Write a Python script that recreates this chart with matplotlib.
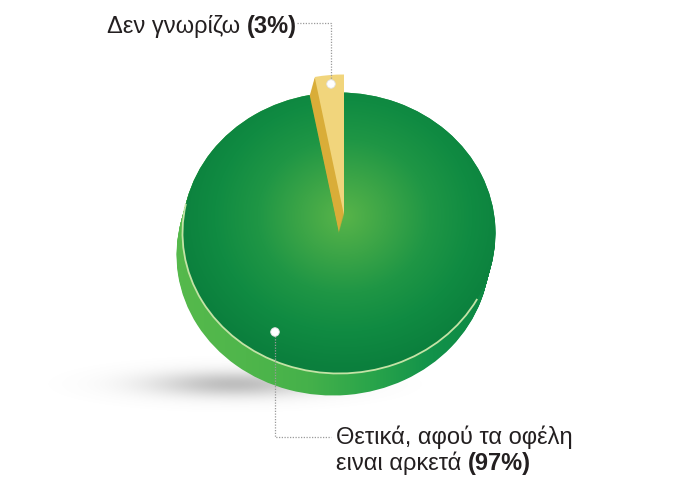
import numpy as np
import matplotlib
matplotlib.use('Agg')
import matplotlib.pyplot as plt
from matplotlib.colors import LinearSegmentedColormap
from matplotlib.patches import Arc, Circle

# ---- data ----
categories = ['Δεν γνωρίζω', 'Θετικά, αφού τα οφέλη ειναι αρκετά']
values = [3, 97]
pct_labels = ['(3%)', '(97%)']

W, H = 700, 484
fig = plt.figure(figsize=(7, 4.84), dpi=100)
fig.patch.set_facecolor('white')
bg = fig.add_axes([0, 0, 1, 1])
bg.set_xlim(0, W)
bg.set_ylim(H, 0)
bg.axis('off')

# ---- pie geometry (pixels) ----
cx, cy, rx, ry = 339.0, 233.0, 156.5, 140.5
box = (150, 40, 540, 430)  # x0, y0, x1, y1 in pixels
pax = fig.add_axes([box[0] / W, (H - box[3]) / H, (box[2] - box[0]) / W, (box[3] - box[1]) / H])
pax.set_zorder(2)
pax.patch.set_visible(False)
xl = ((box[0] - cx) / rx, (box[2] - cx) / rx)
yl = ((cy - box[3]) / ry, (cy - box[1]) / ry)

def fix_axes():
    pax.set_aspect('auto')
    pax.set_xlim(*xl)
    pax.set_ylim(*yl)
    pax.axis('off')

# ---- shadow ----
sx = np.linspace(0, 520, 520)
sy = np.linspace(300, 470, 170)
SX, SY = np.meshgrid(sx, sy)
a = np.exp(-(((SX - 235) / 85) ** 2 + ((SY - 384) / 13) ** 2))
shadow = np.zeros(SX.shape + (4,))
shadow[..., :3] = 0.5
shadow[..., 3] = 0.5 * a
bg.imshow(shadow, extent=(0, 520, 470, 300), zorder=1, interpolation='bilinear')

# gradients
face_cmap = LinearSegmentedColormap.from_list('face', ['#58b449', '#3ca547', '#1f9645', '#108b42', '#0b7f3d'])
side_cmap = LinearSegmentedColormap.from_list('side', ['#55b94c', '#4fb64b', '#45b14a', '#2aa54b', '#12924a', '#0c8742'])
gx = np.linspace(xl[0], xl[1], 300)
gy = np.linspace(yl[0], yl[1], 300)
GX, GY = np.meshgrid(gx, gy)
radial = np.sqrt(((GX - 0.03) / 1.0) ** 2 + ((GY - 0.12) / 1.0) ** 2)
radial = np.clip(radial / 1.1, 0, 1)
horiz = np.clip((GX + 1.0) / 2.0, 0, 1)

# ---- side of the green disc (stacked layers) ----
dx, dy = -6.0 / rx, -22.0 / ry
n_side = 24
for k in np.linspace(1, 0, n_side):
    wedges, _ = pax.pie(values, startangle=90, counterclock=True, radius=1,
                        center=(dx * k, dy * k), colors=['#3fae49', '#3fae49'],
                        wedgeprops=dict(linewidth=0))
    for w in wedges:
        w.set_visible(False)
        im = pax.imshow(side_cmap(horiz), extent=(xl[0], xl[1], yl[0], yl[1]), origin='lower',
                        interpolation='bilinear', zorder=1)
        im.set_clip_path(w)

# ---- top face ----
wedges, _ = pax.pie(values, startangle=90, counterclock=True, radius=1, center=(0, 0),
                    colors=['#dcb03a', '#0a7d3c'], wedgeprops=dict(linewidth=0))
for w in wedges:
    w.set_visible(False)
    imf = pax.imshow(face_cmap(radial), extent=(xl[0], xl[1], yl[0], yl[1]), origin='lower',
                     interpolation='bilinear', zorder=2)
    imf.set_clip_path(w)

# rim highlight
pax.add_patch(Arc((0, 0), 2.0, 2.0, theta1=168, theta2=332, color='#c4e3a6', lw=1.3, zorder=3))

# ---- lifted "don't know" slice ----
lx, ly = 5.0 / rx, 18.0 / ry
n_lift = 18
for i, k in enumerate(np.linspace(0, 1, n_lift)):
    top = (i == n_lift - 1)
    ws, _ = pax.pie(values, startangle=90, counterclock=True, radius=1,
                    center=(lx * k, ly * k),
                    colors=['#f1d57c' if top else '#d9ad38', 'none'],
                    wedgeprops=dict(linewidth=0))
    ws[1].set_visible(False)
    for w in ws:
        w.set_zorder(4)

fix_axes()

# ---- annotation overlay ----
ov = fig.add_axes([0, 0, 1, 1])
ov.set_zorder(5)
ov.patch.set_visible(False)
ov.set_xlim(0, W)
ov.set_ylim(H, 0)
ov.axis('off')

dot_kw = dict(facecolor='white', edgecolor='#e0e0e0', linewidth=0.6, zorder=10)
leader_kw = dict(color='#9a9a9a', lw=0.9, linestyle=(0, (1, 1.2)), zorder=9)

ov.plot([297, 331, 331], [23, 23, 80], **leader_kw)
ov.add_patch(Circle((331, 84), 4.3, **dot_kw))
ov.plot([275, 275, 331], [336, 437, 437], **leader_kw)
ov.add_patch(Circle((275, 332), 4.3, **dot_kw))

fam = ['Liberation Sans', 'DejaVu Sans']
fs = 17
fig.canvas.draw()
r = fig.canvas.get_renderer()
inv = ov.transData.inverted()

t1 = ov.text(107, 33, 'Δεν γνωρίζω ', fontsize=fs, family=fam, color='#231f20', va='baseline', zorder=11)
e = inv.transform(t1.get_window_extent(r))
ov.text(e[1][0], 33, pct_labels[0], fontsize=fs, family=fam, weight='bold', color='#231f20',
        va='baseline', zorder=11)

ov.text(336, 444, 'Θετικά, αφού τα οφέλη', fontsize=fs, family=fam, color='#231f20', va='baseline', zorder=11)
t2 = ov.text(336, 470, 'ειναι αρκετά ', fontsize=fs, family=fam, color='#231f20', va='baseline', zorder=11)
e2 = inv.transform(t2.get_window_extent(r))
ov.text(e2[1][0], 470, pct_labels[1], fontsize=fs, family=fam, weight='bold', color='#231f20',
        va='baseline', zorder=11)

fig.savefig('out.png', dpi=100, facecolor='white')
